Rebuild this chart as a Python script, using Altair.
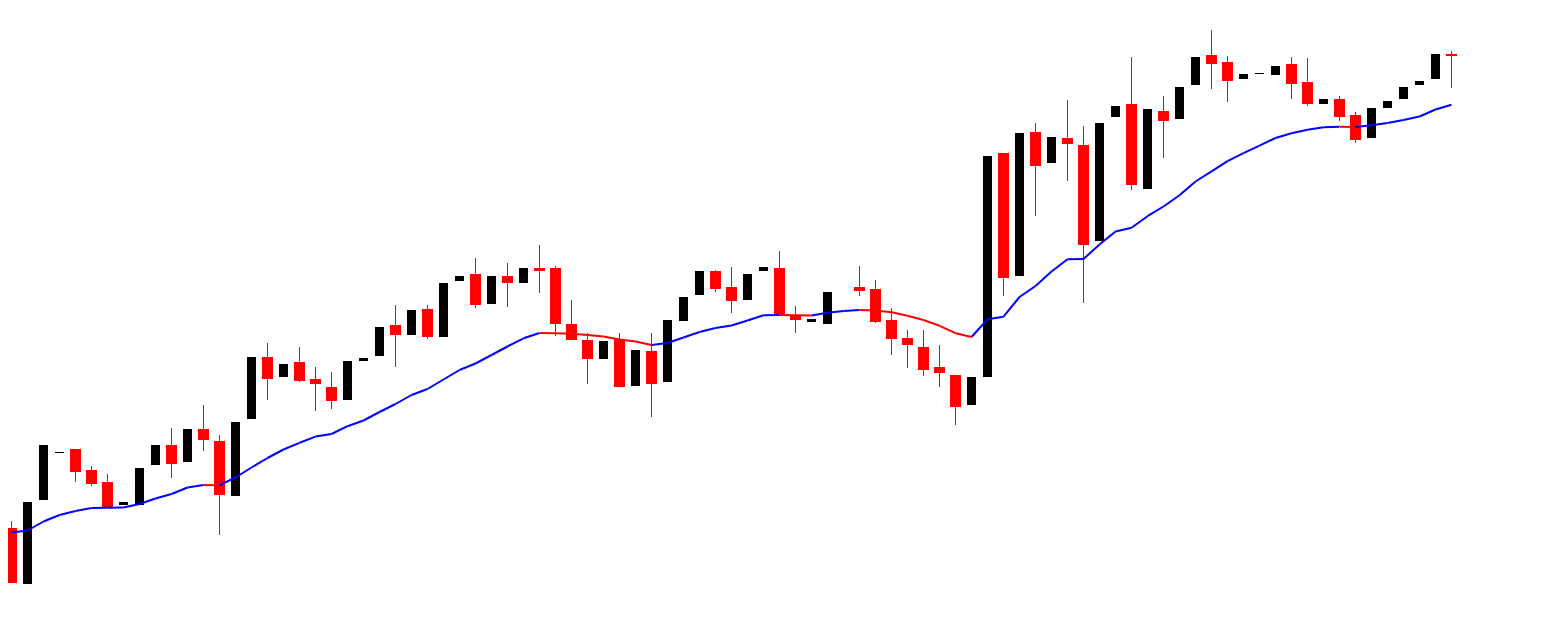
import altair as alt
import pandas as pd

# bar number (one candle per bar; bar 52 has no drawn candle)
bars = list(range(-1, 91))

open_ = [
    1.2509, 1.2472, 1.2416, 1.2500, 1.2547, 1.2551, 1.2530, 1.2518, 1.2495, 1.2495,
    1.2535, 1.2555, 1.2538, 1.2571, 1.2559, 1.2504, 1.2581, 1.2643, 1.2623, 1.2638,
    1.2621, 1.2613, 1.2600, 1.2639, 1.2644, 1.2675, 1.2665, 1.2691, 1.2663, 1.2719,
    1.2726, 1.2696, 1.2724, 1.2717, 1.2732, 1.2732, 1.2676, 1.2660, 1.2641, 1.2661,
    1.2614, 1.2649, 1.2618, 1.2679, 1.2705, 1.2729, 1.2713, 1.2700, 1.2729, 1.2732,
    1.2685, 1.2678, 1.2676, None, 1.2713, 1.2711, 1.2680, 1.2662, 1.2653, 1.2633,
    1.2625, 1.2595, 1.2623, 1.2847, 1.2724, 1.2868, 1.2837, 1.2862, 1.2855, 1.2759,
    1.2883, 1.2896, 1.2811, 1.2889, 1.2881, 1.2915, 1.2945, 1.2938, 1.2921, 1.2926,
    1.2925, 1.2936, 1.2918, 1.2896, 1.2901, 1.2885, 1.2862, 1.2892, 1.2901, 1.2915,
    1.2921, 1.2946,
]
high = [
    1.2509, 1.2479, 1.2498, 1.2555, 1.2548, 1.2551, 1.2534, 1.2526, 1.2498, 1.2532,
    1.2555, 1.2572, 1.2571, 1.2595, 1.2565, 1.2578, 1.2643, 1.2657, 1.2636, 1.2653,
    1.2633, 1.2628, 1.2639, 1.2642, 1.2673, 1.2695, 1.2690, 1.2695, 1.2717, 1.2724,
    1.2742, 1.2724, 1.2737, 1.2732, 1.2755, 1.2734, 1.2700, 1.2667, 1.2659, 1.2667,
    1.2650, 1.2667, 1.2680, 1.2703, 1.2729, 1.2730, 1.2733, 1.2726, 1.2733, 1.2749,
    1.2694, 1.2681, 1.2708, None, 1.2734, 1.2720, 1.2692, 1.2670, 1.2670, 1.2655,
    1.2625, 1.2623, 1.2844, 1.2847, 1.2867, 1.2877, 1.2863, 1.2900, 1.2874, 1.2877,
    1.2894, 1.2943, 1.2891, 1.2904, 1.2913, 1.2943, 1.2970, 1.2944, 1.2926, 1.2927,
    1.2934, 1.2943, 1.2942, 1.2901, 1.2904, 1.2888, 1.2892, 1.2899, 1.2913, 1.2919,
    1.2946, 1.2949,
]
low = [
    1.2470, 1.2417, 1.2416, 1.2500, 1.2547, 1.2518, 1.2514, 1.2493, 1.2495, 1.2495,
    1.2535, 1.2522, 1.2538, 1.2549, 1.2465, 1.2504, 1.2581, 1.2600, 1.2623, 1.2618,
    1.2589, 1.2591, 1.2600, 1.2639, 1.2644, 1.2633, 1.2665, 1.2661, 1.2663, 1.2719,
    1.2692, 1.2696, 1.2693, 1.2717, 1.2707, 1.2664, 1.2660, 1.2616, 1.2641, 1.2613,
    1.2614, 1.2583, 1.2618, 1.2679, 1.2705, 1.2708, 1.2687, 1.2700, 1.2729, 1.2685,
    1.2667, 1.2678, 1.2676, None, 1.2704, 1.2677, 1.2645, 1.2632, 1.2624, 1.2613,
    1.2575, 1.2595, 1.2623, 1.2704, 1.2724, 1.2784, 1.2837, 1.2819, 1.2697, 1.2759,
    1.2883, 1.2810, 1.2811, 1.2842, 1.2881, 1.2915, 1.2911, 1.2898, 1.2921, 1.2926,
    1.2925, 1.2901, 1.2894, 1.2896, 1.2879, 1.2857, 1.2862, 1.2892, 1.2901, 1.2915,
    1.2921, 1.2912,
]
close = [
    1.2470, 1.2417, 1.2498, 1.2555, 1.2548, 1.2528, 1.2516, 1.2493, 1.2498, 1.2532,
    1.2555, 1.2536, 1.2571, 1.2560, 1.2505, 1.2578, 1.2643, 1.2621, 1.2636, 1.2619,
    1.2616, 1.2599, 1.2639, 1.2642, 1.2673, 1.2665, 1.2690, 1.2663, 1.2717, 1.2724,
    1.2695, 1.2724, 1.2717, 1.2732, 1.2729, 1.2676, 1.2660, 1.2641, 1.2659, 1.2613,
    1.2650, 1.2616, 1.2680, 1.2703, 1.2729, 1.2711, 1.2699, 1.2726, 1.2733, 1.2685,
    1.2680, 1.2681, 1.2708, None, 1.2709, 1.2678, 1.2661, 1.2655, 1.2630, 1.2627,
    1.2593, 1.2623, 1.2844, 1.2722, 1.2867, 1.2834, 1.2863, 1.2856, 1.2755, 1.2877,
    1.2894, 1.2815, 1.2891, 1.2879, 1.2913, 1.2943, 1.2936, 1.2919, 1.2926, 1.2927,
    1.2934, 1.2916, 1.2896, 1.2901, 1.2883, 1.2860, 1.2892, 1.2899, 1.2913, 1.2919,
    1.2946, 1.2944,
]
# moving average
ma = [
    1.2470, 1.24675, 1.24695, 1.24785, 1.2485, 1.2489, 1.2492, 1.24923, 1.24924, 1.2496,
    1.25015, 1.2506, 1.25125, 1.2515, 1.25148, 1.25225, 1.25325, 1.2542, 1.25505, 1.25572,
    1.25634, 1.2566, 1.25738, 1.25795, 1.2588, 1.2596, 1.2605, 1.2611, 1.26205, 1.2630,
    1.26365, 1.2645, 1.26535, 1.26617, 1.2667, 1.26668, 1.26662, 1.2665, 1.26635, 1.26605,
    1.26585, 1.2655, 1.2657, 1.26625, 1.2668, 1.2672, 1.26745, 1.26795, 1.26847, 1.2685,
    1.26848, 1.26846, 1.26872, 1.2689, 1.2690, 1.26894, 1.26877, 1.26842, 1.2680, 1.26742,
    1.26668, 1.2663, 1.26807, 1.26833, 1.2703, 1.2714, 1.27285, 1.27407, 1.2741, 1.27555,
    1.27685, 1.27723, 1.27838, 1.27935, 1.28047, 1.28185, 1.28287, 1.28388, 1.28468, 1.28543,
    1.2862, 1.28668, 1.28702, 1.28728, 1.28733, 1.28731, 1.28748, 1.2877, 1.2880, 1.28835,
    1.28905, 1.28953,
]

rows = []
for b, o, h, l, c in zip(bars, open_, high, low, close):
    if o is None:
        continue
    rows.append(dict(bar=b, open=o, high=h, low=l, close=c,
                     dir="down" if c < o else "up"))
candles = pd.DataFrame(rows)

seg = pd.DataFrame({
    "bar": bars[:-1], "bar2": bars[1:],
    "ma": ma[:-1], "ma2": ma[1:],
    "trend": ["up" if b >= a else "down" for a, b in zip(ma[:-1], ma[1:])],
})

xs = alt.Scale(domain=[-0.21875, 95.15625], nice=False, zero=False, padding=0)
ys = alt.Scale(domain=[1.2386, 1.2992], nice=False, zero=False, padding=0)

X = alt.X("bar:Q", scale=xs, axis=None)
base = alt.Chart(candles)

wicks = base.transform_filter(alt.datum.dir == "down").mark_rule(
    color="#ff0000", strokeWidth=1, clip=True
).encode(x=X, y=alt.Y("low:Q", scale=ys, axis=None), y2="high:Q")

red = base.transform_filter(alt.datum.dir == "down").mark_bar(
    color="#ff0000", size=11, clip=True
).encode(x=X, y=alt.Y("open:Q", scale=ys, axis=None), y2="close:Q")

black = base.transform_filter(alt.datum.dir == "up").mark_bar(
    color="#000000", size=9, clip=True
).encode(x=X, y=alt.Y("open:Q", scale=ys, axis=None), y2="close:Q")

maline = alt.Chart(seg).mark_rule(strokeWidth=2, clip=True).encode(
    x=X, x2="bar2:Q",
    y=alt.Y("ma:Q", scale=ys, axis=None), y2="ma2:Q",
    color=alt.Color("trend:N", scale=alt.Scale(domain=["up", "down"],
                    range=["#0000ff", "#ff0000"]), legend=None),
)

chart = alt.layer(wicks, red, black, maline).properties(
    width=1526, height=606, padding=0, background="#ffffff"
).configure_view(stroke=None)

chart.save("out.html", embed_options={"renderer": "svg", "actions": False})
